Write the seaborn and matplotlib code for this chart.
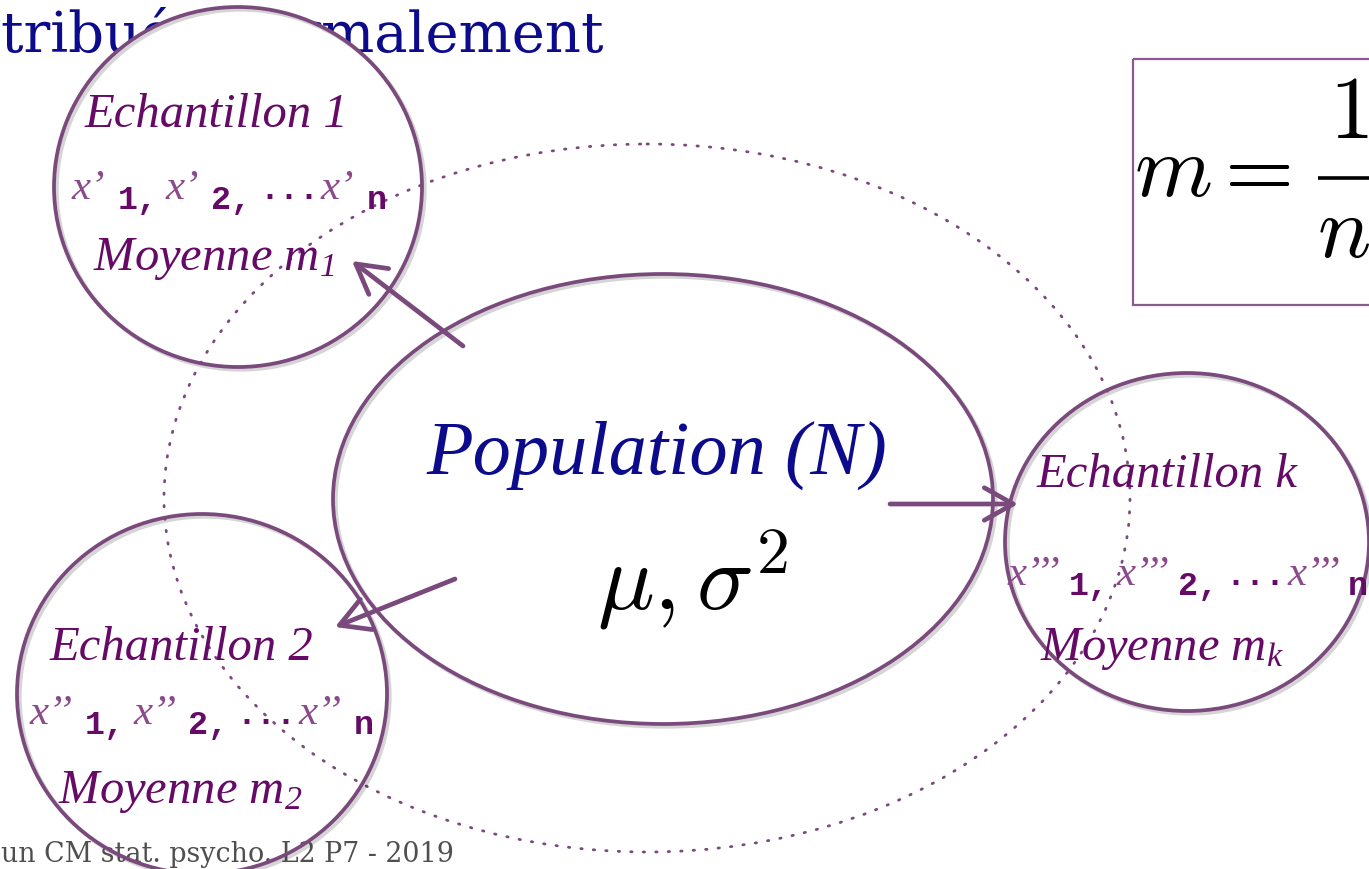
import numpy as np
import pandas as pd
import seaborn as sns
import matplotlib.pyplot as plt
from matplotlib.patches import Ellipse, Rectangle, FancyArrowPatch
import matplotlib.patheffects as pe

# texts of the diagram
title_text = "tribuée normalement"
footer_text = "un CM stat. psycho. L2 P7 - 2019"
sample_names = ["Echantillon 1", "Echantillon 2", "Echantillon k"]
sample_primes = ["\u2019", "\u2019\u2019", "\u2019\u2019\u2019"]
mean_index = ["1", "2", "k"]
obs_index = ["1,", "2,", "n"]
population_name = "Population (N)"
population_params = r"$\mu, \sigma^2$"
formula_parts = [r"$m$", r"$=$", r"$1$", r"$n$"]

# layout (pixels, origin top-left)
W, H = 1369, 870
circle_xy = [(238, 188), (202, 695), (1187, 543)]
circle_wh = [(368, 360), (370, 360), (364, 338)]
name_xy = [(85, 127), (50, 660), (1037, 487)]
row_xy = [(72, 199), (30, 724), (1008, 585)]
row_gap = [12, 12, 8]
mean_xy = [(93, 270), (58, 803), (1040, 660)]
arrows = [((463, 347), (352, 262)), ((455, 580), (335, 628)), ((890, 505), (1018, 505))]
formula_xy = [(1134, 196, "left"), (1209, 196, "left"), (1349, 138, "center"), (1344, 257, "center")]

stroke = "#7b4a7d"
purple = "#650a66"
light_purple = "#8a4a8c"
navy = "#0b0b8c"

sns.set_theme(style="white")
plt.rcParams["mathtext.fontset"] = "custom"
plt.rcParams["mathtext.it"] = "Liberation Serif:italic"
plt.rcParams["mathtext.rm"] = "Liberation Serif:italic"

fig = plt.figure(figsize=(W / 100, H / 100), dpi=100)
ax = fig.add_axes([0, 0, 1, 1])
ax.set_xlim(0, W)
ax.set_ylim(H, 0)
ax.axis("off")
renderer = fig.canvas.get_renderer()


def fit_text(x, y, s, width, size, **kw):
    # shrink or grow the font so the text spans the given width
    t = ax.text(x, y, s, fontsize=size, **kw)
    w = t.get_window_extent(renderer).width
    t.set_fontsize(size * width / w)
    return t


# title, partly hidden by the first sample
fit_text(1, 52, title_text, 604, 44, ha="left", va="baseline", family="DejaVu Serif",
         color=navy, zorder=1)

shadow = [pe.SimpleLineShadow(offset=(2, -2), shadow_color="k", alpha=0.18), pe.Normal()]

# big dotted ellipse
ax.add_patch(Ellipse((647, 499), 966, 708, fill=False, ec=stroke, lw=2.0,
                     ls=(0, (0.5, 4.0)), capstyle="round", zorder=3))

# population + samples
shapes = [((663, 500), (660, 450))] + list(zip(circle_xy, circle_wh))
for (cx, cy), (w, h) in shapes:
    ax.add_patch(Ellipse((cx, cy), w, h, fc="white", ec="none", zorder=2))
    ax.add_patch(Ellipse((cx, cy), w, h, fill=False, ec=stroke, lw=2.7, zorder=4,
                         path_effects=shadow))

ax.text(657, 474, population_name, ha="center", va="baseline", family="Liberation Serif",
        style="italic", fontsize=55, color=navy, zorder=5)
ax.text(692, 610, population_params, ha="center", va="baseline", math_fontfamily="cm",
        fontsize=68, color="black", zorder=5)

styles = {
    "x": dict(family="Liberation Serif", style="italic", fontsize=31, color=light_purple),
    "sub": dict(family="Liberation Mono", weight="bold", fontsize=24, color=purple),
    "dots": dict(family="Liberation Mono", weight="bold", fontsize=24, color=purple),
}
shift = {"x": 0, "sub": 10, "dots": 0}


def draw_row(x, y, prime, xgap):
    gap = {"x": xgap, "sub": 8, "dots": 2}
    seq = []
    for k, sub in enumerate(obs_index):
        if k == len(obs_index) - 1:
            seq.append(("...", "dots"))
        seq.append(("x" + prime, "x"))
        seq.append((sub, "sub"))
    for s, kind in seq:
        t = ax.text(x, y + shift[kind], s, ha="left", va="baseline", zorder=5, **styles[kind])
        x += t.get_window_extent(renderer).width + gap[kind]


for i in range(len(sample_names)):
    ax.text(*name_xy[i], sample_names[i], ha="left", va="baseline", family="Liberation Serif",
            style="italic", fontsize=35, color=purple, zorder=5)
    draw_row(*row_xy[i], sample_primes[i], row_gap[i])
    ax.text(*mean_xy[i], "Moyenne $m_{%s}$" % mean_index[i], ha="left", va="baseline",
            family="Liberation Serif", style="italic", fontsize=35, color=purple, zorder=5)

for (x0, y0), (x1, y1) in arrows:
    ax.add_patch(FancyArrowPatch((x0, y0), (x1, y1), arrowstyle="->,head_length=0.8,head_width=0.45",
                                 mutation_scale=26, lw=3.4, color=stroke, shrinkA=0, shrinkB=0,
                                 capstyle="round", joinstyle="round", zorder=6))

# formula box, cut by the right edge
ax.add_patch(Rectangle((1133, 60), 300, 246, fill=False, ec="#8a5a8c", lw=1.6, zorder=4))
for s, (x, y, ha) in zip(formula_parts, formula_xy):
    ax.text(x, y, s, ha=ha, va="baseline", math_fontfamily="cm",
            fontsize=64, color="black", zorder=5)
ax.plot([1318, W + 5], [179, 179], color="black", lw=2.6, solid_capstyle="butt", zorder=5)

fit_text(454, 862, footer_text, 454, 19, ha="right", va="baseline", family="DejaVu Serif",
         color="#4f4f4f", zorder=3.5)

fig.savefig("out.png", dpi=100, facecolor="white")
